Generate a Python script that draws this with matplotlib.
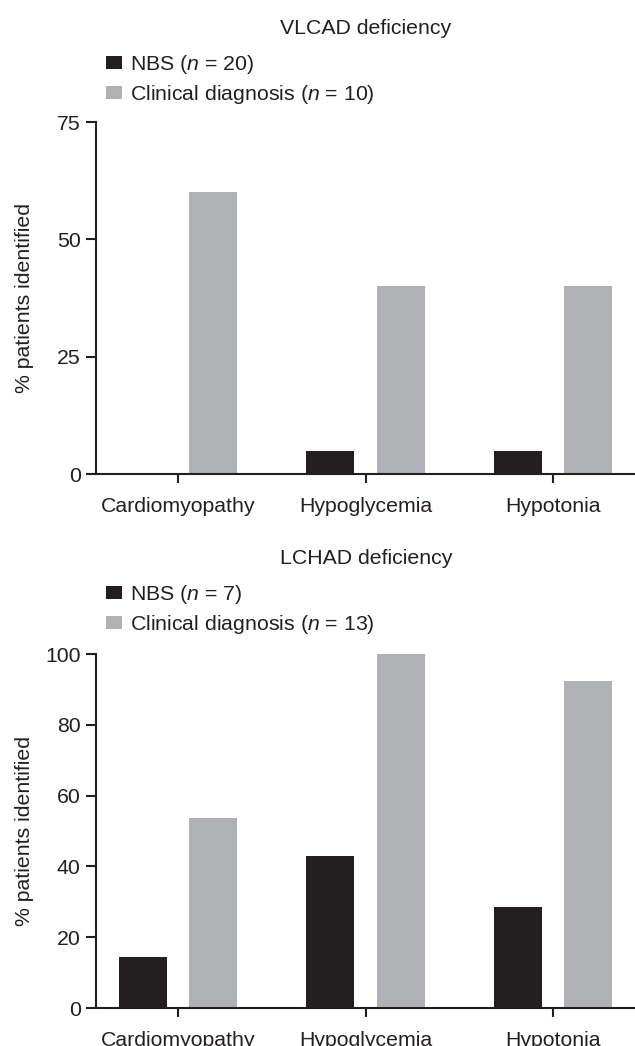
import numpy as np
import matplotlib
matplotlib.use("Agg")
import matplotlib.pyplot as plt

plt.rcParams['font.family'] = ['Liberation Sans', 'DejaVu Sans']
plt.rcParams['mathtext.fontset'] = 'custom'
plt.rcParams['mathtext.rm'] = 'Liberation Sans'
plt.rcParams['mathtext.it'] = 'Liberation Sans:italic'

# datos
categorias = ["Cardiomyopathy", "Hypoglycemia", "Hypotonia"]

vlcad_nbs = [0, 5, 5]
vlcad_clin = [60, 40, 40]
vlcad_leyenda = ["NBS ($n$ = 20)", "Clinical diagnosis ($n$ = 10)"]
vlcad_ticks = [0, 25, 50, 75]

lchad_nbs = [14.3, 42.9, 28.6]
lchad_clin = [53.8, 100, 92.3]
lchad_leyenda = ["NBS ($n$ = 7)", "Clinical diagnosis ($n$ = 13)"]
lchad_ticks = [0, 20, 40, 60, 80, 100]

negro = "#231f20"
gris = "#b0b1b4"
fs = 15.3

W, H = 635, 1046
fig = plt.figure(figsize=(W / 100, H / 100), dpi=100)


def panel(rect, titulo, nbs, clin, leyenda, ticks, ley_top):
    ax = fig.add_axes(rect)
    x = np.arange(len(categorias))
    ancho = 0.256
    ax.bar(x - 0.187, nbs, ancho, color=negro, label=leyenda[0])
    ax.bar(x + 0.187, clin, ancho, color=gris, label=leyenda[1])

    ax.set_xlim(-0.437, 2.437)
    ax.set_ylim(0, ticks[-1])
    ax.set_yticks(ticks)
    ax.set_xticks(x)
    ax.set_xticklabels(categorias)
    ax.spines['top'].set_visible(False)
    ax.spines['right'].set_visible(False)
    for s in ['left', 'bottom']:
        ax.spines[s].set_linewidth(1.5)
        ax.spines[s].set_color(negro)
    ax.tick_params(axis='y', length=7, width=1.5, pad=4, labelsize=fs, colors=negro)
    ax.tick_params(axis='x', length=6.5, width=1.5, pad=10, labelsize=fs, colors=negro)

    ax.text((25 - 96) / 539, 0.5, "% patients identified", transform=ax.transAxes,
            rotation=90, ha='center', va='center', fontsize=fs, color=negro)

    # titulo centrado sobre la categoria del medio
    fig.text(366 / W, ley_top + 24 / H, titulo, ha='center', va='center',
             fontsize=fs, color=negro)

    ax.legend(loc='upper left', bbox_to_anchor=(106 / W, ley_top),
              bbox_transform=fig.transFigure, frameon=False, fontsize=fs,
              handlelength=0.75, handleheight=0.56, handletextpad=0.4,
              labelspacing=0.32, borderpad=0, borderaxespad=0,
              labelcolor=negro)
    return ax


izq = 96 / W
panel([izq, 1 - 474 / H, 1 - izq, 352 / H], "VLCAD deficiency",
      vlcad_nbs, vlcad_clin, vlcad_leyenda, vlcad_ticks, 1 - 53 / H)
panel([izq, 1 - 1008 / H, 1 - izq, 354 / H], "LCHAD deficiency",
      lchad_nbs, lchad_clin, lchad_leyenda, lchad_ticks, 1 - 583 / H)

fig.savefig("out.png", dpi=100)
